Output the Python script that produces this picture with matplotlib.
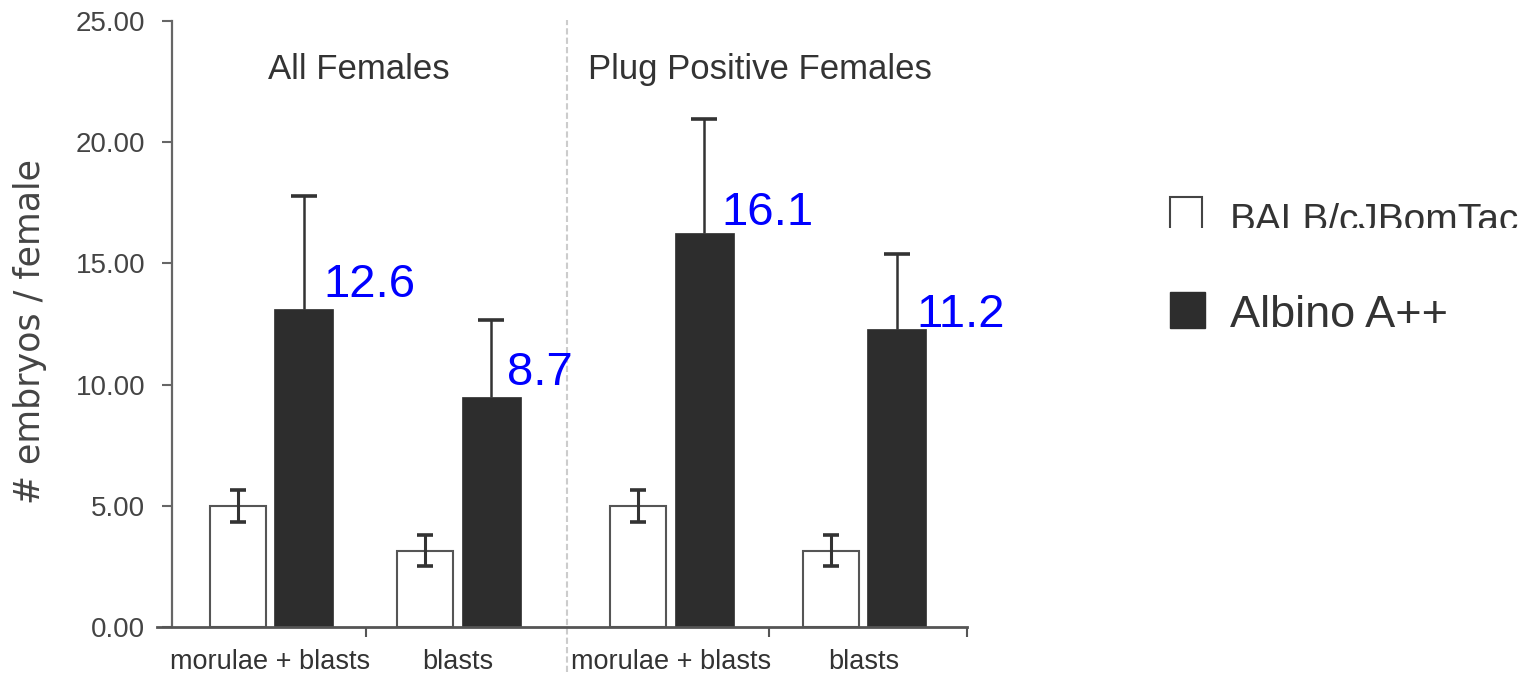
import numpy as np
import matplotlib
matplotlib.use("Agg")
import matplotlib.pyplot as plt
from matplotlib.patches import Rectangle
from matplotlib.transforms import Bbox, TransformedBbox

# ---- data ----
categories = ["morulae + blasts", "blasts", "morulae + blasts", "blasts"]
sections = ["All Females", "Plug Positive Females"]
balb = [5.0, 3.15, 5.0, 3.15]
balb_err = [0.65, 0.65, 0.65, 0.65]
albino = [13.1, 9.5, 16.25, 12.3]
albino_err = [4.7, 3.15, 4.7, 3.1]
annotations = ["12.6", "8.7", "16.1", "11.2"]
series_names = ["BALB/cJBomTac", "Albino A++"]
yticks = [0, 5, 10, 15, 20, 25]

# ---- layout (pixel-like x scale) ----
W, H = 1537, 674
plt.rcParams['font.family'] = ['Liberation Sans', 'DejaVu Sans']
fig = plt.figure(figsize=(W / 100, H / 100), dpi=100)

def fx(px):
    return px / W

def fy(py):
    return 1 - py / H

ax = fig.add_axes([fx(157), (H - 627) / H, (967 - 157) / W, (627 - 21) / H])
ax.set_xlim(157, 967)
ax.set_ylim(0, 25)

centers = np.array([270.5, 458, 671, 863.5])
off = 33
x_w = centers - off
x_b = centers + off

ax.bar(x_w, balb, width=56, color='white', edgecolor='#555555', linewidth=1.5, zorder=2)
ax.errorbar(x_w, balb, yerr=balb_err, fmt='none', ecolor='#333333',
            elinewidth=2.2, capsize=6, capthick=2.6, zorder=3)
ax.bar(x_b, albino, width=59, color='#2d2d2d', edgecolor='#2d2d2d', linewidth=0.5, zorder=2)
eb = ax.errorbar(x_b, albino, yerr=[np.zeros(4), albino_err], fmt='none', ecolor='#333333',
                 elinewidth=1.8, capsize=9.5, capthick=2.6, zorder=1)
# keep only the upper caps
eb[1][0].set_visible(False)

# value annotations
ann_dx = [19.5, 15.5, 17.5, 19.5]
ann_dy = [0.5, 0.48, 0.33, 0.08]
for i, t in enumerate(annotations):
    ax.text(x_b[i] + ann_dx[i], albino[i] + ann_dy[i], t, color='#0000ff',
            fontsize=34, ha='left', va='baseline', zorder=5)

# spines
for s in ['top', 'right']:
    ax.spines[s].set_visible(False)
ax.spines['left'].set_position(('data', 172))
ax.spines['left'].set_bounds(0, 25)
ax.spines['left'].set_color('#666666')
ax.spines['left'].set_linewidth(1.6)
ax.spines['bottom'].set_color('#555555')
ax.spines['bottom'].set_linewidth(2.0)

ax.set_yticks(yticks)
ax.set_yticklabels([f"{v:.2f}" for v in yticks])
ax.tick_params(axis='y', length=7.2, width=1.5, color='#666666', pad=12,
               labelsize=20, labelcolor='#444444')

ax.set_xticks([366, 769, 967])
ax.set_xticklabels([])
ax.tick_params(axis='x', which='major', length=7.2, width=1.5, color='#555555')
ax.set_xticks(centers, minor=True)
ax.set_xticklabels(categories, minor=True)
ax.tick_params(axis='x', which='minor', length=0, pad=15.5, labelsize=19.5, labelcolor='#333333')

# divider
ax.axvline(567, ymin=(627 - 672) / 606, ymax=(627 - 20) / 606, color='#cccccc',
           lw=1.5, linestyle=(0, (3, 1.5)), clip_on=False, zorder=0)

# section titles
fig.text(fx(359), fy(79), sections[0], fontsize=25, color='#333333', ha='center', va='baseline')
fig.text(fx(760), fy(79), sections[1], fontsize=25, color='#333333', ha='center', va='baseline')

# y label
fig.text(fx(30), fy(332), "# embryos / female", rotation=90, fontsize=25,
         family=['DejaVu Sans'], color='#444444', ha='center', va='center')

# legend (manual, first entry clipped as in the reference)
clip = TransformedBbox(Bbox([[0, fy(228)], [1, 1]]), fig.transFigure)
r1 = Rectangle((fx(1170), fy(232)), 32 / W, 35 / H, transform=fig.transFigure,
               facecolor='white', edgecolor='#444444', lw=1.5)
fig.add_artist(r1)
r1.set_clip_box(clip)
r1.set_clip_on(True)
t1 = fig.text(fx(1230), fy(231), series_names[0], fontsize=28, color='#333333',
              ha='left', va='baseline')
t1.set_clip_box(clip)
t1.set_clip_on(True)

r2 = Rectangle((fx(1170), fy(328)), 35 / W, 36 / H, transform=fig.transFigure,
               facecolor='#2d2d2d', edgecolor='#2d2d2d', lw=1)
fig.add_artist(r2)
fig.text(fx(1230), fy(327), series_names[1], fontsize=32.5, color='#333333',
         ha='left', va='baseline')

fig.savefig("out.png", dpi=100)
